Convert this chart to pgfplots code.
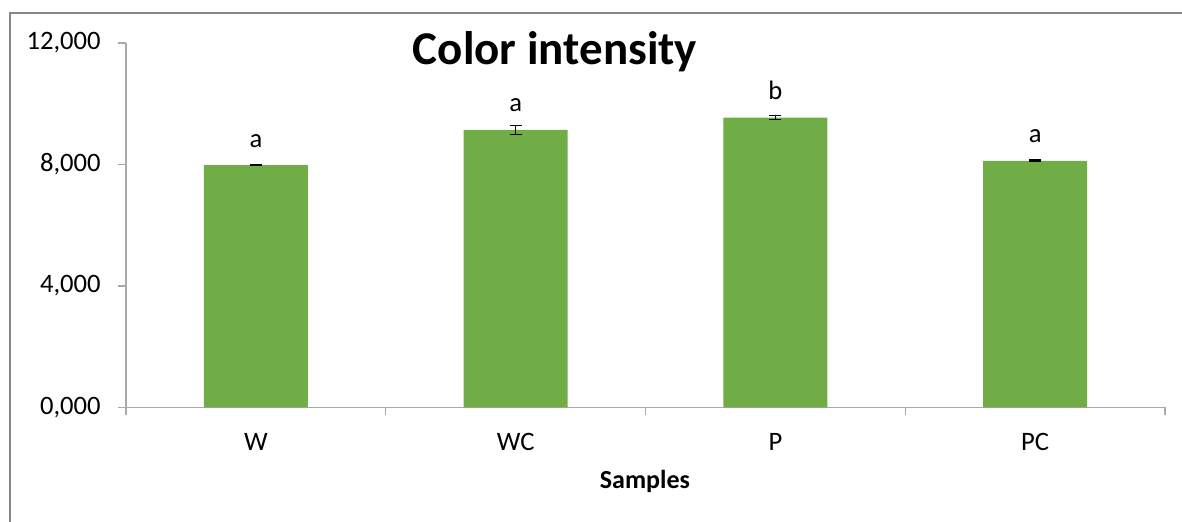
\documentclass[border=0pt]{standalone}
\usepackage{pgfplots}
\pgfplotsset{compat=1.18}
\usepackage{pgfplotstable}
\usepackage{fontspec}
\setmainfont{Carlito}
\definecolor{bargreen}{RGB}{112,173,71}
\definecolor{axgray}{RGB}{170,170,170}
\definecolor{framegray}{RGB}{135,135,135}
\pgfplotstableread{
x y err lab
0.5 7980 15 a
1.5 9140 148 a
2.5 9540 66 b
3.5 8120 30 a
}\datatable
\begin{document}
\begin{tikzpicture}
\useasboundingbox (0,0) rectangle (591pt,261pt);
\draw[framegray, line width=0.8pt] (5pt,0) -- (5pt,254.5pt) -- (591pt,254.5pt);
\begin{axis}[
  at={(63pt,57.25pt)}, anchor=south west,
  scale only axis, width=519.5pt, height=182.25pt,
  xmin=0, xmax=4, ymin=0, ymax=12000,
  scaled y ticks=false,
  axis x line=bottom, axis y line=left,
  axis line style={axgray, line width=0.6pt, -},
  every tick/.style={axgray, line width=0.6pt},
  tick align=outside, major tick length=4pt,
  xtick={0,1,2,3,4}, xticklabels={},
  extra x ticks={0.5,1.5,2.5,3.5},
  extra x tick labels={W,WC,P,PC},
  extra x tick style={major tick length=0pt,
     xticklabel style={anchor=base, yshift=-21.75pt, inner sep=0pt}},
  ytick={0,4000,8000,12000},
  yticklabels={{0,000},{4,000},{8,000},{12,000}},
  yticklabel style={anchor=east, inner sep=0pt, xshift=-8.5pt},
  ticklabel style={font=\fontsize{13.3}{15}\selectfont, text=black},
  title={\textbf{Color intensity}},
  title style={at={(axis description cs:0.4129,0.909)}, anchor=base, inner sep=0pt, font=\fontsize{23.5}{27}\selectfont},
  xlabel={\textbf{Samples}},
  xlabel style={at={(axis description cs:0.4995,-0.2236)}, anchor=base, inner sep=0pt, font=\fontsize{13}{15}\selectfont},
  ybar, bar width=0.4,
  point meta=explicit symbolic,
  nodes near coords,
  every node near coord/.style={anchor=base, yshift=9pt, inner sep=0pt, font=\fontsize{13.3}{15}\selectfont, text=black},
  clip=false,
]
\addplot[fill=bargreen, draw=none,
  error bars/.cd, y dir=both, y explicit,
  error bar style={black, line width=0.6pt},
  error mark options={rotate=90, mark size=3pt, black, line width=0.6pt}]
  table[x=x, y=y, y error=err, meta=lab] {\datatable};
\end{axis}
\end{tikzpicture}
\end{document}
